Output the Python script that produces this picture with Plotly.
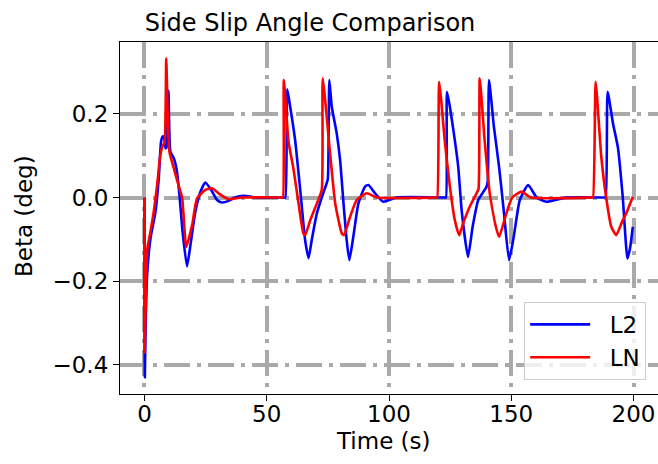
import plotly.graph_objects as go

# Side slip angle (deg) traces for the two controllers
t_l2 = [0, 0.15, 0.5, 1.1, 2.45, 4.5, 5.85, 6.8, 7.5, 8.0, 8.6, 9.0, 9.8, 10.6, 12.0, 13.3,
        14.4, 15.6, 17.4, 18.8, 20.8, 22.9, 24.9, 27.3, 29.7, 31.7, 34.4, 37.0, 40.5, 46.0,
        57.0, 57.6, 58.4, 59.6, 61.6, 63.7, 65.7, 67.1, 68.4, 70.5, 72.5, 74.3, 75.0, 75.6, 76.6,
        78.6, 80.0, 81.4, 82.7, 83.8, 85.4, 87.5, 90.2, 91.6, 94.3, 97.7, 103.0,
        122.8, 123.3, 123.7, 124.9, 126.9, 128.3, 129.7, 132.3, 134.2, 136.5, 139.9, 140.4, 140.9,
        142.9, 145.0, 146.9, 149.1, 151.0, 153.5, 156.9, 160.4, 164.4, 172.5,
        188.1, 188.6, 189.4, 191.6, 193.6, 195.6, 197.5, 198.6, 199.7]
beta_l2 = [0, -0.43, -0.30, -0.185, -0.098, -0.034, 0.046, 0.134, 0.146, 0.145, 0.118, 0.12,
           0.255, 0.11, 0.094, 0.062, 0.0, -0.082, -0.165, -0.114, -0.034, 0.014, 0.036, 0.018,
           -0.006, -0.012, -0.008, 0.0, 0.004, 0.0,
           0.0, 0.0, 0.259, 0.217, 0.138, 0.018, -0.102, -0.145, -0.102, -0.038, 0.0, 0.03, 0.045,
           0.281, 0.217, 0.154, 0.09, -0.014, -0.102, -0.150, -0.094, -0.014, 0.026, 0.030,
           0.010, -0.010, 0.0,
           0.0, 0.0, 0.253, 0.217, 0.138, 0.074, -0.03, -0.142, -0.070, -0.006, 0.026, 0.04, 0.281,
           0.169, 0.074, -0.030, -0.150, -0.094, -0.006, 0.030, 0.0, -0.010, 0.0,
           0.0, 0.0, 0.253, 0.177, 0.12, 0.0, -0.146, -0.12, -0.07]

t_ln = [0, 0.1, 0.7, 1.2, 2.45, 3.8, 5.2, 6.5, 7.6, 8.2, 8.9, 9.5, 10.2, 12.0, 13.9, 15.4,
        17.1, 19.5, 21.5, 24.9, 27.6, 30.3, 33.0, 34.5, 40.0,
        56.1, 56.6, 57.0, 58.9, 60.9, 63.0, 65.0, 65.7, 67.8, 70.5, 72.5, 72.9, 75.9, 78.0, 80.7,
        81.6, 84.1, 86.8, 90.9, 95.0,
        119.2, 119.7, 120.5, 122.9, 124.9, 126.9, 128.7, 130.3, 133.0, 135.8, 136.6, 137.1, 139.2,
        141.2, 143.7, 145.0, 148.0, 150.4, 154.2, 158.0,
        182.9, 183.4, 184.5, 186.8, 188.8, 190.9, 192.9, 195.6, 197.0, 199.7]
beta_ln = [0, -0.37, -0.193, -0.122, -0.082, -0.034, 0.03, 0.102, 0.126, 0.13, 0.333, 0.2,
           0.11, 0.07, 0.03, 0.0, -0.118, -0.066, -0.002, 0.018, 0.022, 0.010, 0.0, -0.004, 0.0,
           0.0, 0.0, 0.281, 0.134, 0.07, -0.014, -0.086, -0.090, -0.054, -0.014, 0.018, 0.285,
           0.106, -0.014, -0.086, -0.090, -0.046, -0.006, 0.010, 0.0,
           0.0, 0.0, 0.277, 0.130, 0.026, -0.054, -0.090, -0.062, -0.022, 0.010, 0.02, 0.285, 0.130,
           0.010, -0.070, -0.094, -0.038, 0.0, 0.014, 0.0,
           0.0, 0.0, 0.277, 0.098, 0.0, -0.070, -0.090, -0.054, -0.038, 0.002]

x_ticks = [0, 50, 100, 150, 200]
y_ticks = [-0.4, -0.2, 0.0, 0.2]

FONT = "DejaVu Sans"
GAP = "\u00a0\u00a0"  # extra room between legend line and label

fig = go.Figure()
fig.add_trace(go.Scatter(x=t_l2, y=beta_l2, mode="lines", name=GAP + "L2",
                         line=dict(color="#0000ff", width=2.6, shape="spline", smoothing=0.5)))
fig.add_trace(go.Scatter(x=t_ln, y=beta_ln, mode="lines", name=GAP + "LN",
                         line=dict(color="#ff0000", width=2.6, shape="spline", smoothing=0.5)))

grid = dict(showgrid=True, gridcolor="#a9a9a9", gridwidth=4, griddash="26px,7px,4px,7px")

fig.update_layout(
    width=658, height=464,
    margin=dict(l=120, r=0, t=42, b=70),
    paper_bgcolor="white", plot_bgcolor="white",
    font=dict(family=FONT, color="black", size=23),
    title=dict(text="Side Slip Angle Comparison", font=dict(size=24, family=FONT),
               x=310 / 658, xref="container", xanchor="center",
               y=1 - 23 / 464, yref="container", yanchor="middle"),
    showlegend=True,
    legend=dict(x=0.978, y=0.04, xanchor="right", yanchor="bottom",
                bgcolor="rgba(255,255,255,0.8)", bordercolor="#cccccc", borderwidth=1,
                font=dict(size=23, family=FONT), itemwidth=60),
    xaxis=dict(range=[-10, 210], tickvals=x_ticks, ticks="outside", ticklen=6,
               tickwidth=1, tickcolor="black", showline=True, linecolor="black",
               linewidth=1.2, mirror=True, zeroline=False, ticklabelstandoff=-7, **grid),
    yaxis=dict(range=[-0.47, 0.372], tickvals=y_ticks, tickformat=".1f", ticks="outside",
               ticklen=6, tickwidth=1, tickcolor="black", showline=True, linecolor="black",
               linewidth=1.2, zeroline=False, **grid),
    annotations=[
        dict(text="Time (s)", xref="paper", yref="paper", x=(383 - 120) / 538,
             y=-(441 - 394) / 352, xanchor="center", yanchor="middle", showarrow=False,
             font=dict(size=23, family=FONT)),
        dict(text="Beta (deg)", xref="paper", yref="paper", x=-(120 - 24) / 538,
             y=(394 - 216) / 352, xanchor="center", yanchor="middle", showarrow=False,
             textangle=-90, font=dict(size=23, family=FONT)),
    ],
)

fig.write_html("out.html")
